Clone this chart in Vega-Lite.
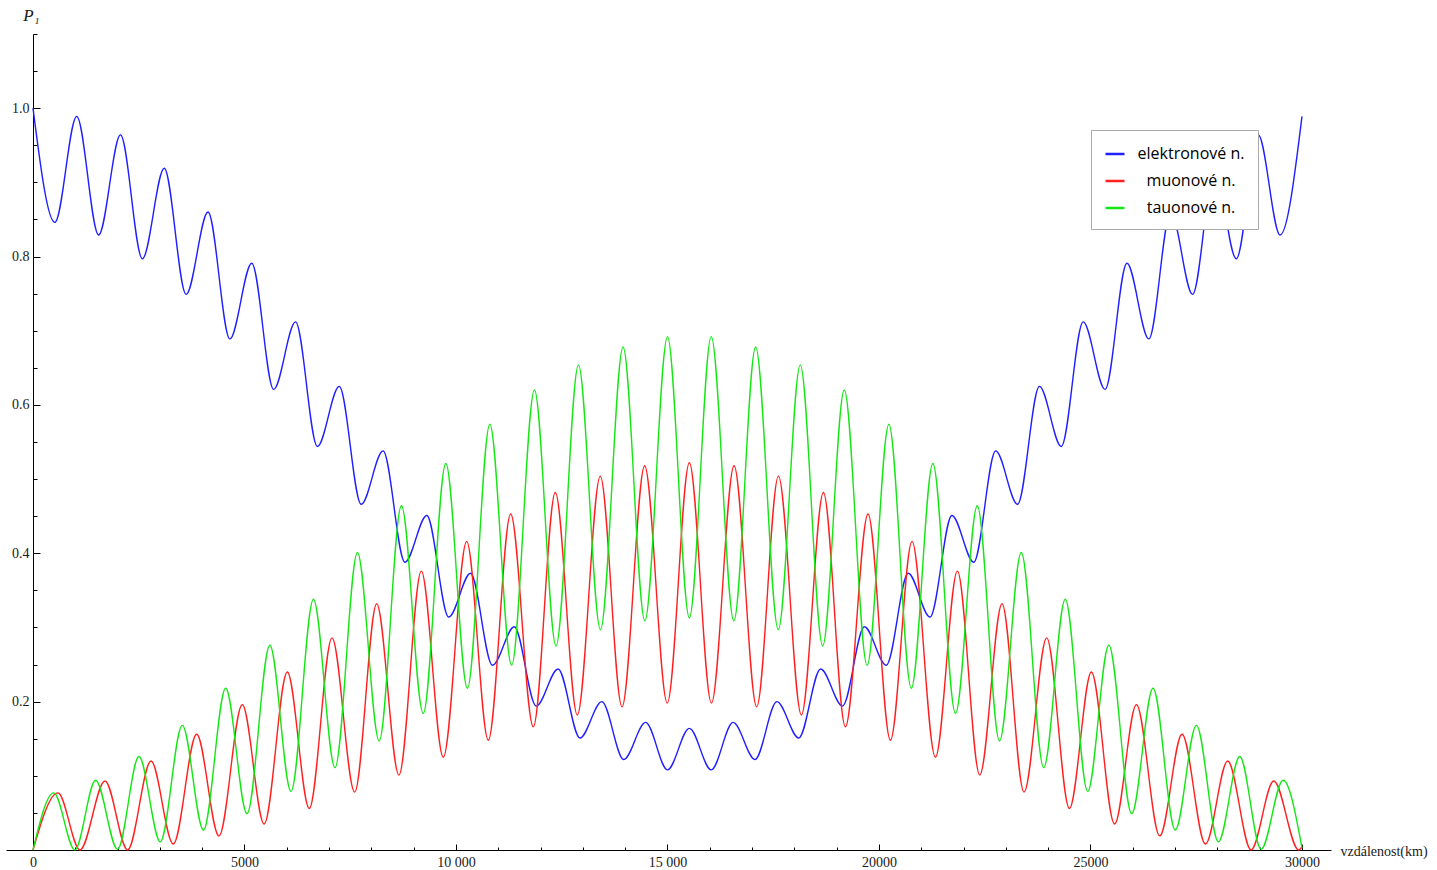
{
  "$schema": "https://vega.github.io/schema/vega-lite/v6.json",
  "width": 1325,
  "height": 816,
  "autosize": {"type": "none"},
  "padding": {"left": 6, "top": 34, "right": 106, "bottom": 20},
  "background": "white",
  "config": {
    "view": {"stroke": null},
    "axis": {
      "domainColor": "black",
      "domainWidth": 1,
      "tickColor": "black",
      "tickWidth": 1,
      "grid": false,
      "labelFont": "Liberation Serif",
      "labelFontSize": 14,
      "labelColor": "#1a1a1a",
      "labelOverlap": false,
      "labelFlush": false,
      "titleFont": "Liberation Serif",
      "titleFontWeight": "normal",
      "titleColor": "#1a1a1a"
    }
  },
  "data": {
    "values": [
      {"x": 0, "p": 1.0, "s": "elektronové n."},
      {"x": 517, "p": 0.846, "s": "elektronové n."},
      {"x": 1034, "p": 0.989, "s": "elektronové n."},
      {"x": 1552, "p": 0.829, "s": "elektronové n."},
      {"x": 2069, "p": 0.964, "s": "elektronové n."},
      {"x": 2586, "p": 0.797, "s": "elektronové n."},
      {"x": 3103, "p": 0.919, "s": "elektronové n."},
      {"x": 3621, "p": 0.749, "s": "elektronové n."},
      {"x": 4138, "p": 0.860, "s": "elektronové n."},
      {"x": 4655, "p": 0.689, "s": "elektronové n."},
      {"x": 5172, "p": 0.791, "s": "elektronové n."},
      {"x": 5690, "p": 0.621, "s": "elektronové n."},
      {"x": 6207, "p": 0.712, "s": "elektronové n."},
      {"x": 6724, "p": 0.544, "s": "elektronové n."},
      {"x": 7241, "p": 0.625, "s": "elektronové n."},
      {"x": 7759, "p": 0.466, "s": "elektronové n."},
      {"x": 8276, "p": 0.538, "s": "elektronové n."},
      {"x": 8793, "p": 0.388, "s": "elektronové n."},
      {"x": 9310, "p": 0.451, "s": "elektronové n."},
      {"x": 9828, "p": 0.314, "s": "elektronové n."},
      {"x": 10345, "p": 0.373, "s": "elektronové n."},
      {"x": 10862, "p": 0.249, "s": "elektronové n."},
      {"x": 11379, "p": 0.301, "s": "elektronové n."},
      {"x": 11897, "p": 0.194, "s": "elektronové n."},
      {"x": 12414, "p": 0.244, "s": "elektronové n."},
      {"x": 12931, "p": 0.151, "s": "elektronové n."},
      {"x": 13448, "p": 0.200, "s": "elektronové n."},
      {"x": 13966, "p": 0.122, "s": "elektronové n."},
      {"x": 14483, "p": 0.172, "s": "elektronové n."},
      {"x": 15000, "p": 0.108, "s": "elektronové n."},
      {"x": 15517, "p": 0.164, "s": "elektronové n."},
      {"x": 16034, "p": 0.108, "s": "elektronové n."},
      {"x": 16552, "p": 0.172, "s": "elektronové n."},
      {"x": 17069, "p": 0.122, "s": "elektronové n."},
      {"x": 17586, "p": 0.200, "s": "elektronové n."},
      {"x": 18103, "p": 0.151, "s": "elektronové n."},
      {"x": 18621, "p": 0.244, "s": "elektronové n."},
      {"x": 19138, "p": 0.194, "s": "elektronové n."},
      {"x": 19655, "p": 0.301, "s": "elektronové n."},
      {"x": 20172, "p": 0.249, "s": "elektronové n."},
      {"x": 20690, "p": 0.373, "s": "elektronové n."},
      {"x": 21207, "p": 0.314, "s": "elektronové n."},
      {"x": 21724, "p": 0.451, "s": "elektronové n."},
      {"x": 22241, "p": 0.388, "s": "elektronové n."},
      {"x": 22759, "p": 0.538, "s": "elektronové n."},
      {"x": 23276, "p": 0.466, "s": "elektronové n."},
      {"x": 23793, "p": 0.625, "s": "elektronové n."},
      {"x": 24310, "p": 0.544, "s": "elektronové n."},
      {"x": 24828, "p": 0.712, "s": "elektronové n."},
      {"x": 25345, "p": 0.621, "s": "elektronové n."},
      {"x": 25862, "p": 0.791, "s": "elektronové n."},
      {"x": 26379, "p": 0.689, "s": "elektronové n."},
      {"x": 26897, "p": 0.860, "s": "elektronové n."},
      {"x": 27414, "p": 0.749, "s": "elektronové n."},
      {"x": 27931, "p": 0.919, "s": "elektronové n."},
      {"x": 28448, "p": 0.797, "s": "elektronové n."},
      {"x": 28966, "p": 0.964, "s": "elektronové n."},
      {"x": 29483, "p": 0.829, "s": "elektronové n."},
      {"x": 30000, "p": 0.989, "s": "elektronové n."},

      {"x": 0, "p": 0.0, "s": "muonové n."},
      {"x": 590, "p": 0.077, "s": "muonové n."},
      {"x": 1111, "p": 0.0, "s": "muonové n."},
      {"x": 1702, "p": 0.093, "s": "muonové n."},
      {"x": 2238, "p": 0.0, "s": "muonové n."},
      {"x": 2790, "p": 0.120, "s": "muonové n."},
      {"x": 3317, "p": 0.008, "s": "muonové n."},
      {"x": 3869, "p": 0.156, "s": "muonové n."},
      {"x": 4397, "p": 0.019, "s": "muonové n."},
      {"x": 4948, "p": 0.196, "s": "muonové n."},
      {"x": 5465, "p": 0.035, "s": "muonové n."},
      {"x": 6012, "p": 0.240, "s": "muonové n."},
      {"x": 6532, "p": 0.056, "s": "muonové n."},
      {"x": 7069, "p": 0.286, "s": "muonové n."},
      {"x": 7605, "p": 0.078, "s": "muonové n."},
      {"x": 8125, "p": 0.332, "s": "muonové n."},
      {"x": 8652, "p": 0.101, "s": "muonové n."},
      {"x": 9180, "p": 0.376, "s": "muonové n."},
      {"x": 9700, "p": 0.125, "s": "muonové n."},
      {"x": 10253, "p": 0.416, "s": "muonové n."},
      {"x": 10764, "p": 0.148, "s": "muonové n."},
      {"x": 11293, "p": 0.453, "s": "muonové n."},
      {"x": 11828, "p": 0.166, "s": "muonové n."},
      {"x": 12348, "p": 0.482, "s": "muonové n."},
      {"x": 12868, "p": 0.182, "s": "muonové n."},
      {"x": 13411, "p": 0.504, "s": "muonové n."},
      {"x": 13925, "p": 0.193, "s": "muonové n."},
      {"x": 14460, "p": 0.518, "s": "muonové n."},
      {"x": 14995, "p": 0.198, "s": "muonové n."},
      {"x": 15517, "p": 0.522, "s": "muonové n."},
      {"x": 16039, "p": 0.198, "s": "muonové n."},
      {"x": 16574, "p": 0.518, "s": "muonové n."},
      {"x": 17109, "p": 0.193, "s": "muonové n."},
      {"x": 17623, "p": 0.504, "s": "muonové n."},
      {"x": 18166, "p": 0.182, "s": "muonové n."},
      {"x": 18686, "p": 0.482, "s": "muonové n."},
      {"x": 19206, "p": 0.166, "s": "muonové n."},
      {"x": 19741, "p": 0.453, "s": "muonové n."},
      {"x": 20270, "p": 0.148, "s": "muonové n."},
      {"x": 20781, "p": 0.416, "s": "muonové n."},
      {"x": 21334, "p": 0.125, "s": "muonové n."},
      {"x": 21854, "p": 0.376, "s": "muonové n."},
      {"x": 22382, "p": 0.101, "s": "muonové n."},
      {"x": 22909, "p": 0.332, "s": "muonové n."},
      {"x": 23429, "p": 0.078, "s": "muonové n."},
      {"x": 23965, "p": 0.286, "s": "muonové n."},
      {"x": 24502, "p": 0.056, "s": "muonové n."},
      {"x": 25022, "p": 0.240, "s": "muonové n."},
      {"x": 25569, "p": 0.035, "s": "muonové n."},
      {"x": 26086, "p": 0.196, "s": "muonové n."},
      {"x": 26637, "p": 0.019, "s": "muonové n."},
      {"x": 27165, "p": 0.156, "s": "muonové n."},
      {"x": 27717, "p": 0.008, "s": "muonové n."},
      {"x": 28244, "p": 0.120, "s": "muonové n."},
      {"x": 28796, "p": 0.0, "s": "muonové n."},
      {"x": 29332, "p": 0.093, "s": "muonové n."},
      {"x": 29923, "p": 0.0, "s": "muonové n."},
      {"x": 30000, "p": 0.004, "s": "muonové n."},

      {"x": 0, "p": 0.0, "s": "tauonové n."},
      {"x": 490, "p": 0.077, "s": "tauonové n."},
      {"x": 990, "p": 0.0, "s": "tauonové n."},
      {"x": 1480, "p": 0.094, "s": "tauonové n."},
      {"x": 2000, "p": 0.001, "s": "tauonové n."},
      {"x": 2505, "p": 0.126, "s": "tauonové n."},
      {"x": 3010, "p": 0.011, "s": "tauonové n."},
      {"x": 3530, "p": 0.168, "s": "tauonové n."},
      {"x": 4030, "p": 0.027, "s": "tauonové n."},
      {"x": 4555, "p": 0.218, "s": "tauonové n."},
      {"x": 5060, "p": 0.049, "s": "tauonové n."},
      {"x": 5600, "p": 0.276, "s": "tauonové n."},
      {"x": 6100, "p": 0.079, "s": "tauonové n."},
      {"x": 6630, "p": 0.338, "s": "tauonové n."},
      {"x": 7140, "p": 0.111, "s": "tauonové n."},
      {"x": 7670, "p": 0.401, "s": "tauonové n."},
      {"x": 8185, "p": 0.147, "s": "tauonové n."},
      {"x": 8710, "p": 0.464, "s": "tauonové n."},
      {"x": 9225, "p": 0.184, "s": "tauonové n."},
      {"x": 9760, "p": 0.521, "s": "tauonové n."},
      {"x": 10270, "p": 0.218, "s": "tauonové n."},
      {"x": 10800, "p": 0.574, "s": "tauonové n."},
      {"x": 11315, "p": 0.249, "s": "tauonové n."},
      {"x": 11855, "p": 0.620, "s": "tauonové n."},
      {"x": 12365, "p": 0.275, "s": "tauonové n."},
      {"x": 12895, "p": 0.654, "s": "tauonové n."},
      {"x": 13415, "p": 0.297, "s": "tauonové n."},
      {"x": 13950, "p": 0.678, "s": "tauonové n."},
      {"x": 14465, "p": 0.309, "s": "tauonové n."},
      {"x": 15000, "p": 0.692, "s": "tauonové n."},
      {"x": 15517, "p": 0.313, "s": "tauonové n."},
      {"x": 16034, "p": 0.692, "s": "tauonové n."},
      {"x": 16569, "p": 0.309, "s": "tauonové n."},
      {"x": 17084, "p": 0.678, "s": "tauonové n."},
      {"x": 17619, "p": 0.297, "s": "tauonové n."},
      {"x": 18139, "p": 0.654, "s": "tauonové n."},
      {"x": 18669, "p": 0.275, "s": "tauonové n."},
      {"x": 19179, "p": 0.620, "s": "tauonové n."},
      {"x": 19719, "p": 0.249, "s": "tauonové n."},
      {"x": 20234, "p": 0.574, "s": "tauonové n."},
      {"x": 20764, "p": 0.218, "s": "tauonové n."},
      {"x": 21274, "p": 0.521, "s": "tauonové n."},
      {"x": 21809, "p": 0.184, "s": "tauonové n."},
      {"x": 22324, "p": 0.464, "s": "tauonové n."},
      {"x": 22849, "p": 0.147, "s": "tauonové n."},
      {"x": 23364, "p": 0.401, "s": "tauonové n."},
      {"x": 23894, "p": 0.111, "s": "tauonové n."},
      {"x": 24404, "p": 0.338, "s": "tauonové n."},
      {"x": 24934, "p": 0.079, "s": "tauonové n."},
      {"x": 25434, "p": 0.276, "s": "tauonové n."},
      {"x": 25974, "p": 0.049, "s": "tauonové n."},
      {"x": 26479, "p": 0.218, "s": "tauonové n."},
      {"x": 27004, "p": 0.027, "s": "tauonové n."},
      {"x": 27504, "p": 0.168, "s": "tauonové n."},
      {"x": 28024, "p": 0.011, "s": "tauonové n."},
      {"x": 28529, "p": 0.126, "s": "tauonové n."},
      {"x": 29034, "p": 0.001, "s": "tauonové n."},
      {"x": 29554, "p": 0.094, "s": "tauonové n."},
      {"x": 30000, "p": 0.003, "s": "tauonové n."}
    ]
  },
  "mark": {"type": "line", "interpolate": "monotone", "strokeWidth": 1.4},
  "encoding": {
    "x": {
      "field": "x",
      "type": "quantitative",
      "scale": {"domain": [-638, 30686], "nice": false, "zero": false},
      "axis": {
        "values": [0,1000,2000,3000,4000,5000,6000,7000,8000,9000,10000,11000,12000,13000,14000,15000,16000,17000,18000,19000,20000,21000,22000,23000,24000,25000,26000,27000,28000,29000,30000],
        "format": "d",
        "labelExpr": "datum.value % 5000 ? '' : (datum.value == 10000 ? '10 000' : (datum.value == 15000 ? '15 000' : datum.label))",
        "tickSize": {"condition": {"test": "datum.value % 5000 == 0", "value": -6}, "value": -3},
        "labelPadding": 11,
        "title": "vzdálenost(km)",
        "titleFontSize": 14,
        "titleX": 1334,
        "titleY": 1,
        "titleAlign": "left",
        "titleBaseline": "middle",
        "titleAnchor": "start"
      }
    },
    "y": {
      "field": "p",
      "type": "quantitative",
      "scale": {"domain": [0, 1.1], "nice": false, "zero": false},
      "axis": {
        "values": [0.05,0.1,0.15,0.2,0.25,0.3,0.35,0.4,0.45,0.5,0.55,0.6,0.65,0.7,0.75,0.8,0.85,0.9,0.95,1.0,1.05,1.1],
        "labelExpr": "(abs(datum.value*5 - round(datum.value*5)) < 0.001 && datum.value < 1.05) ? format(datum.value, '.1f') : ''",
        "tickSize": {"condition": {"test": "abs(datum.value*5 - round(datum.value*5)) < 0.001 && datum.value < 1.05", "value": -7}, "value": -4},
        "labelPadding": 11,
        "offset": -27,
        "title": "P₁",
        "titleFontStyle": "italic",
        "titleFontSize": 17,
        "titleAngle": 0,
        "titleX": -2,
        "titleY": -19,
        "titleAlign": "center",
        "titleBaseline": "middle",
        "titleAnchor": "start"
      }
    },
    "color": {
      "field": "s",
      "type": "nominal",
      "scale": {"domain": ["elektronové n.", "muonové n.", "tauonové n."], "range": ["#1f1fff", "#ff1f1f", "#14e614"]},
      "legend": {
        "orient": "none",
        "legendX": 1085,
        "legendY": 96,
        "title": null,
        "symbolType": "stroke",
        "symbolSize": 360,
        "symbolStrokeWidth": 2.5,
        "labelFont": "Open Sans",
        "labelFontSize": 16,
        "labelColor": "black",
        "labelAlign": "center",
        "labelOffset": 65,
        "rowPadding": 8,
        "padding": 13,
        "strokeColor": "#aaaaaa",
        "fillColor": "white"
      }
    }
  }
}
